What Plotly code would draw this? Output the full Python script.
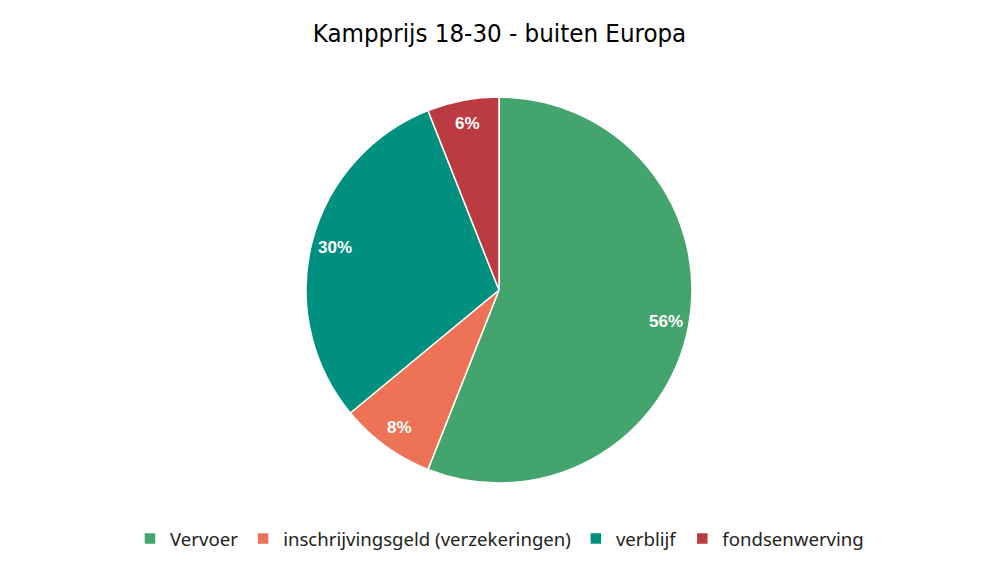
import numpy as np
import plotly.graph_objects as go

labels = ["Vervoer", "inschrijvingsgeld (verzekeringen)", "verblijf", "fondsenwerving"]
values = [56, 8, 30, 6]
colors = ["#44A46D", "#EE7256", "#00907F", "#BC3B40"]

W, H = 999, 562
dom_x = [0.3063, 0.6927]
dom_y = [0.1406, 0.8274]

fig = go.Figure(go.Pie(
    labels=labels, values=values, sort=False, direction="clockwise", rotation=0,
    marker=dict(colors=colors, line=dict(color="white", width=1.5)),
    textinfo="none",
    domain=dict(x=dom_x, y=dom_y),
    hoverinfo="label+percent",
))

# percentage labels placed along each slice's mid-angle
cx = (dom_x[0] + dom_x[1]) / 2 * W
cy = (1 - (dom_y[0] + dom_y[1]) / 2) * H
R = (dom_y[1] - dom_y[0]) * H / 2
tot = sum(values)
cum = 0
for v in values:
    mid = (cum + v / 2) / tot * 2 * np.pi
    cum += v
    r = 0.88 * R
    px = cx + r * np.sin(mid)
    py = cy - r * np.cos(mid)
    fig.add_annotation(x=px / W, y=1 - py / H, xref="paper", yref="paper",
                       xanchor="center", yanchor="middle",
                       text=f"<b>{round(100 * v / tot)}%</b>", showarrow=False,
                       font=dict(family="Liberation Sans, Arial", size=17, color="white"))

fig.update_layout(
    width=W, height=H, margin=dict(l=0, r=0, t=0, b=0),
    paper_bgcolor="white", plot_bgcolor="white",
    title=dict(text="Kampprijs 18-30 - buiten Europa", x=0.5, xanchor="center",
               y=1 - 33 / H, yanchor="middle",
               font=dict(family="Liberation Sans Narrow, DejaVu Sans Condensed, sans-serif", size=25.6, color="black")),
    legend=dict(orientation="h", x=0.5, xanchor="center", y=1 - 539 / H, yanchor="middle",
                font=dict(family="Noto Sans, sans-serif", size=18.6, color="#222"),
                itemwidth=30, traceorder="normal"),
)
fig.write_html("out.html", config={"displayModeBar": False},
               post_script="document.body.style.margin='0';")
